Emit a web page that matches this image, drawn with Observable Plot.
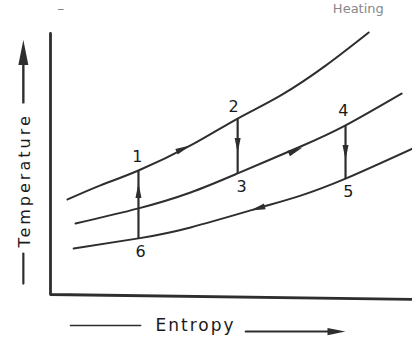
<!DOCTYPE html>
<html>
<head>
<meta charset="utf-8">
<script src="https://cdn.jsdelivr.net/npm/d3@7"></script>
<script src="https://cdn.jsdelivr.net/npm/@observablehq/plot@0.6"></script>
<style>
  html, body { margin: 0; padding: 0; background: #fff; }
  #chart svg { display: block; }
</style>
</head>
<body>
<div id="chart"></div>
<script>
// Entropy (s) / Temperature (T) in arbitrary units
const topCurve = [
  {s: 0.47, T: 3.64}, {s: 1.38, T: 4.18}, {s: 2.43, T: 4.75}, {s: 3.87, T: 5.71},
  {s: 5.17, T: 6.74}, {s: 6.35, T: 7.62}, {s: 7.60, T: 8.77}, {s: 8.79, T: 10.04}
];
const midCurve = [
  {s: 0.69, T: 2.72}, {s: 2.43, T: 3.30}, {s: 3.87, T: 3.91}, {s: 5.17, T: 4.64},
  {s: 6.91, T: 5.67}, {s: 8.15, T: 6.48}, {s: 9.70, T: 7.70}
];
const lowCurve = [
  {s: 0.64, T: 1.76}, {s: 2.43, T: 2.15}, {s: 3.87, T: 2.57}, {s: 5.72, T: 3.30},
  {s: 6.91, T: 3.79}, {s: 8.15, T: 4.44}, {s: 10.0, T: 5.59}
];
// State points 1..6
const points = [
  {id: "1", s: 2.43, T: 4.75, ls: 2.40, lT: 5.29},
  {id: "2", s: 5.17, T: 6.74, ls: 5.06, lT: 7.20},
  {id: "3", s: 5.17, T: 4.64, ls: 5.28, lT: 4.14},
  {id: "4", s: 8.15, T: 6.48, ls: 8.09, lT: 7.05},
  {id: "5", s: 8.15, T: 4.44, ls: 8.23, lT: 3.95},
  {id: "6", s: 2.43, T: 2.15, ls: 2.49, lT: 1.65}
];
// vertical processes: from -> to
const verticals = [["6", "1"], ["2", "3"], ["4", "5"]];
// direction arrowheads (angle, degrees clockwise from up)
const arrowHeads = [
  {s: 2.43, T: 3.98, rot: 0},
  {s: 5.17, T: 5.71, rot: 180},
  {s: 8.15, T: 5.44, rot: 180},
  {s: 3.67, T: 5.59, rot: 66},
  {s: 6.77, T: 5.52, rot: 66},
  {s: 5.72, T: 3.30, rot: 254}
];
const xLabel = "Entropy";
const yLabel = "Temperature";
const topText = "Heating";

const pt = Object.fromEntries(points.map(d => [d.id, d]));
const vLinks = verticals.map(([a, b]) => ({s1: pt[a].s, T1: pt[a].T, s2: pt[b].s, T2: pt[b].T}));

const headSymbol = {
  draw(ctx, size) {
    const r = Math.sqrt(size / Math.PI);
    const w = r * 0.4;
    ctx.moveTo(0, -r);
    ctx.lineTo(w, r);
    ctx.lineTo(-w, r);
    ctx.closePath();
  }
};

const ink = "#2e2e2e";
const font = "DejaVu Sans, sans-serif";

const chart = Plot.plot({
  width: 412,
  height: 340,
  margin: 0,
  x: {domain: [0, 10], range: [50, 412], axis: null},
  y: {domain: [0, 10], range: [294, 33], axis: null},
  style: {background: "#fff", fontFamily: font},
  marks: [
    // axes frame (L shape)
    Plot.line([{s: 0, T: 10.0}, {s: 0, T: 0}, {s: 10, T: -0.19}], {x: "s", y: "T", stroke: ink, strokeWidth: 2.8}),
    // constant-pressure curves
    Plot.line(topCurve, {x: "s", y: "T", curve: "natural", stroke: ink, strokeWidth: 2}),
    Plot.line(midCurve, {x: "s", y: "T", curve: "natural", stroke: ink, strokeWidth: 2}),
    Plot.line(lowCurve, {x: "s", y: "T", curve: "natural", stroke: ink, strokeWidth: 2}),
    // vertical processes
    Plot.link(vLinks, {x1: "s1", y1: "T1", x2: "s2", y2: "T2", stroke: ink, strokeWidth: 2.2}),
    Plot.dot(arrowHeads, {x: "s", y: "T", rotate: "rot", symbol: headSymbol, r: 7.5, fill: ink, stroke: null}),
    // point labels
    Plot.text(points, {x: "ls", y: "lT", text: "id", fontSize: 16, fill: "#1a1a1a"}),
    // y axis label with arrow
    Plot.line([{s: -0.75, T: 7.36}, {s: -0.75, T: 9.0}], {x: "s", y: "T", stroke: ink, strokeWidth: 2.4}),
    Plot.dot([{s: -0.75, T: 9.27}], {x: "s", y: "T", symbol: headSymbol, r: 12.5, fill: ink, stroke: null}),
    Plot.text([yLabel], {x: () => -0.72, y: () => 4.37, text: d => d, rotate: -90, fontSize: 16, fill: "#1a1a1a"}),
    Plot.line([{s: -0.75, T: 1.57}, {s: -0.75, T: 0.42}], {x: "s", y: "T", stroke: ink, strokeWidth: 2.2}),
    // x axis label with arrow
    Plot.line([{s: 0.55, T: -1.19}, {s: 2.49, T: -1.19}], {x: "s", y: "T", stroke: ink, strokeWidth: 1.6}),
    Plot.text([xLabel], {x: () => 2.9, y: () => -1.2, text: d => d, textAnchor: "start", fontSize: 17, fill: "#1a1a1a"}),
    Plot.line([{s: 5.39, T: -1.42}, {s: 7.9, T: -1.42}], {x: "s", y: "T", stroke: ink, strokeWidth: 1.9}),
    Plot.dot([{s: 7.9, T: -1.42}], {x: "s", y: "T", symbol: headSymbol, rotate: 90, r: 9, fill: ink, stroke: null}),
    // header text from the scan (partly cut in the original)
    Plot.text([topText], {x: () => 7.8, y: () => 10.95, text: d => d, textAnchor: "start", fontSize: 13, fill: "#888"}),
    Plot.text(["–"], {x: () => 0.28, y: () => 10.95, text: d => d, fontSize: 14, fill: "#888"})
  ]
});
// letter spacing for the axis titles (not a Plot option)
d3.select(chart).selectAll("text")
  .filter(function() { return this.textContent === yLabel; })
  .style("letter-spacing", "3px");
d3.select(chart).selectAll("text")
  .filter(function() { return this.textContent === xLabel; })
  .style("letter-spacing", "2px");
document.getElementById("chart").appendChild(chart);
</script>
</body>
</html>
